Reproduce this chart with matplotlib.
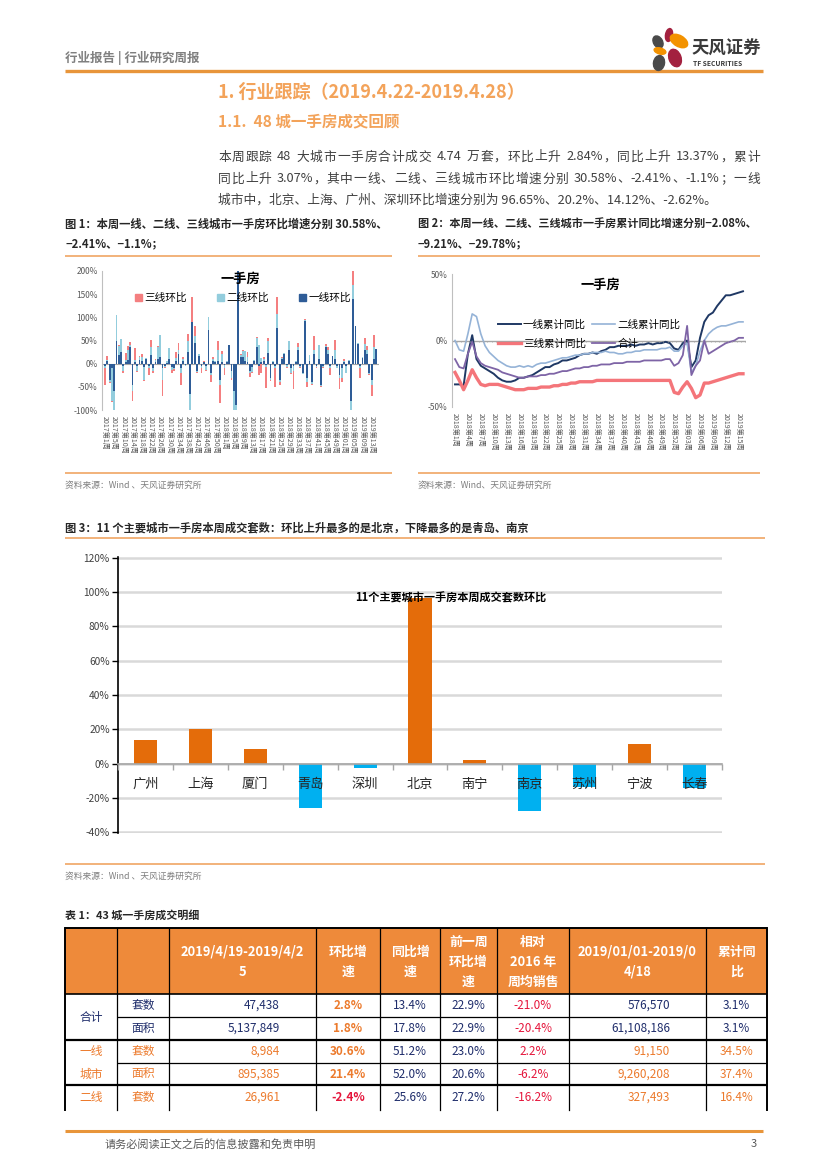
import re

import numpy as np
import matplotlib
matplotlib.use("Agg")
import matplotlib.pyplot as plt
from matplotlib.font_manager import FontProperties
from matplotlib.patches import Ellipse, Patch, Rectangle

plt.rcParams["font.family"] = ["Noto Sans CJK SC", "DejaVu Sans"]
plt.rcParams["axes.unicode_minus"] = False

W, H = 827, 1170

# 图1: 一线/二线/三线城市一手房环比 (周度, %)
c1_labels = [
    "2017第1周", "2017第5周", "2017第10周", "2017第14周", "2017第18周", "2017第22周",
    "2017第26周", "2017第30周", "2017第34周", "2017第38周", "2017第42周", "2017第46周",
    "2017第50周", "2018第1周", "2018第5周", "2018第9周", "2018第13周", "2018第17周",
    "2018第21周", "2018第25周", "2018第29周", "2018第33周", "2018第37周", "2018第41周",
    "2018第45周", "2018第49周", "2019第01周", "2019第05周", "2019第09周", "2019第13周",
]
c1_tier1 = [
    -5, 5, -35, -10, -60, 50, 18, 25, -5, 3,
    8, 35, -45, 3, -5, 8, 5, -8, 10, -5,
    18, -10, 3, 10, 15, -10, -5, 2, 10, -8,
    -10, 5, 20, -10, 5, -3, 25, -65, 90, 45,
    -15, 17, -5, 3, -5, 73, -20, 5, 3, 5,
    -35, 3, -3, 3, 40, -15, -60, -90, 230, 15,
    15, 5, 3, -15, -8, 5, 35, -5, 3, 5,
    -3, 22, -30, 3, -5, 78, -35, 10, 20, -3,
    30, -10, -5, 3, 30, -5, -20, 92, -30, 5,
    -40, 20, -5, 10, -45, -5, 35, 20, -5, 17,
    10, -5, -25, -10, 3, -5, 5, -80, 140, 82,
    42, -5, 12, 30, 20, -20, -35, 10, 32,
]
c1_tier2 = [
    -5, 3, -5, -70, -40, 55, 20, 28, -10, 5,
    22, 5, -15, 5, -10, 7, 10, -28, 2, -5,
    17, -5, 4, 25, 47, -25, -3, 3, 23, -5,
    -2, 8, 10, -10, 5, -2, 25, -35, 0, 15,
    -3, 3, -5, 1, -8, 27, -5, 5, 2, 25,
    -10, 17, -7, 3, 0, -15, -40, -10, 10, 3,
    12, 22, 12, -5, -10, 3, 20, 40, 10, 5,
    -5, 28, -5, 2, -5, 30, -5, 3, 2, -5,
    20, -10, -10, 2, 5, -3, -3, 2, -10, 13,
    -3, 10, -3, 30, -3, -3, 3, 10, -5, 0,
    20, -5, -5, -20, 2, -15, 3, -20, 30, 0,
    3, -5, 3, 12, 10, -3, -10, 25, 0,
]
c1_tier3 = [
    -35, 8, -2, -3, 0, 0, 2, 0, -5, 15,
    8, 6, -20, 25, -3, 2, 5, -2, 1, -15,
    15, -5, 2, 3, 0, -35, -2, 1, 0, -7,
    -3, 12, 15, -25, 5, 0, 15, 0, 53, 22,
    -2, 0, -10, 1, -2, 0, -15, 5, 0, 20,
    -40, 8, -15, 0, 0, -5, 0, 0, 0, 2,
    2, 0, 10, -8, -2, 0, 3, -20, -20, 5,
    -45, 5, -3, 0, -40, 35, -5, 2, 0, -2,
    0, -3, -40, 0, 10, -2, 0, 2, -10, 0,
    -2, 30, -2, 0, -2, -2, 5, 5, -15, 0,
    22, 0, -25, -10, 5, 0, 0, 0, 60, 0,
    0, -20, 0, 13, 8, -2, -25, 27, 0,
]

# 图2: 累计同比 (%)
c2_labels = [
    "2018第1周", "2018第4周", "2018第7周", "2018第10周", "2018第13周", "2018第16周",
    "2018第19周", "2018第22周", "2018第25周", "2018第28周", "2018第31周", "2018第34周",
    "2018第37周", "2018第40周", "2018第43周", "2018第46周", "2018第49周", "2018第52周",
    "2019第03周", "2019第06周", "2019第09周", "2019第12周", "2019第15周",
]
c2_tier1 = [
    -33, -33, -34, -10, 4, -14, -19, -21, -23, -25,
    -28, -30, -31, -31, -30, -28, -28, -27, -26, -24,
    -22, -20, -20, -18, -17, -15, -15, -14, -13, -11,
    -10, -10, -9, -10, -8, -7, -5, -5, -4, -4,
    -4, -3, -4, -3, -3, -2, -3, -2, -2, -1,
    -2, -6, -7, -2, 0, -20, -15, 2, 14, 19,
    21, 26, 30, 34, 34, 35, 36, 37,
]
c2_tier2 = [
    0, -7, -8, 5, 20, 18, 5, -4, -9, -12,
    -15, -17, -19, -20, -20, -19, -20, -19, -20, -18,
    -17, -17, -16, -15, -14, -13, -13, -12, -11, -11,
    -10, -10, -9, -9, -9, -8, -9, -9, -10, -10,
    -9, -9, -8, -8, -7, -7, -7, -7, -6, -6,
    -5, -8, -8, -4, -2, -24, -19, -8, 0, 5,
    8, 10, 11, 11, 12, 13, 14, 14,
]
c2_tier3 = [
    -24, -30, -37, -30, -22, -28, -33, -34, -33, -33,
    -33, -34, -35, -36, -37, -37, -37, -36, -36, -36,
    -35, -35, -35, -34, -34, -33, -33, -32, -32, -31,
    -31, -31, -31, -30, -30, -30, -30, -30, -30, -30,
    -30, -30, -30, -30, -30, -30, -30, -30, -30, -30,
    -30, -39, -40, -35, -31, -36, -43, -41, -32, -32,
    -31, -30, -29, -28, -27, -26, -25, -25,
]
c2_total = [
    -14, -20, -21, -10, -1, -12, -17, -19, -20, -21,
    -22, -24, -25, -26, -27, -28, -28, -27, -27, -27,
    -26, -26, -25, -25, -24, -23, -23, -22, -21, -21,
    -20, -20, -19, -19, -18, -18, -18, -17, -17, -17,
    -16, -16, -16, -16, -15, -15, -15, -15, -15, -14,
    -14, -19, -17, -11, 11, -26, -19, -15, 0, -10,
    -8, -6, -4, -2, -1, 0, 2, 2,
]

# 图3: 11个主要城市一手房本周成交套数环比 (%)
c3_cities = ["广州", "上海", "厦门", "青岛", "深圳", "北京", "南宁", "南京", "苏州", "宁波", "长春"]
c3_values = [14.1, 20.2, 8.7, -26.0, -2.6, 96.7, 2.1, -27.5, -13.6, 11.6, -14.0]

# 表1: 43城一手房成交明细
tab_header = [
    [], [], ["2019/4/19-2019/4/2", "5"], ["环比增", "速"], ["同比增", "速"],
    ["前一周", "环比增", "速"], ["相对", "2016 年", "周均销售"],
    ["2019/01/01-2019/0", "4/18"], ["累计同", "比"],
]
tab_item = ["套数", "面积", "套数", "面积", "套数"]
tab_week = ["47,438", "5,137,849", "8,984", "895,385", "26,961"]
tab_hb = ["2.8%", "1.8%", "30.6%", "21.4%", "-2.4%"]
tab_tb = ["13.4%", "17.8%", "51.2%", "52.0%", "25.6%"]
tab_prev = ["22.9%", "22.9%", "23.0%", "20.6%", "27.2%"]
tab_vs2016 = ["-21.0%", "-20.4%", "2.2%", "-6.2%", "-16.2%"]
tab_ytd = ["576,570", "61,108,186", "91,150", "9,260,208", "327,493"]
tab_ytd_yoy = ["3.1%", "3.1%", "34.5%", "37.4%", "16.4%"]

ORANGE_LINE = "#E8953A"
TITLE_LINE = "#F2B27A"
HEAD_ORANGE = "#F3A35A"
NAVY = "#1F2D6B"
ORANGE_TXT = "#EC7A2C"
RED_TXT = "#E5163C"


def box(x0, y0, x1, y1):
    return [x0 / W, 1 - y1 / H, (x1 - x0) / W, (y1 - y0) / H]


fig = plt.figure(figsize=(W / 100, H / 100), dpi=100)
fig.patch.set_facecolor("white")

pg = fig.add_axes([0, 0, 1, 1], zorder=0)
pg.set_xlim(0, W)
pg.set_ylim(H, 0)
pg.axis("off")


def ptext(x, y, s, size, color="#404040", weight="normal", ha="left", va="center", **kw):
    pg.text(x, y, s, fontsize=size, color=color, fontweight=weight, ha=ha, va=va, **kw)


def hline(x0, x1, y, color, lw):
    pg.plot([x0, x1], [y, y], color=color, lw=lw, solid_capstyle="butt")


def justified(x0, x1, y, s, size, color):
    # CJK chars and ASCII runs are tokens; the slack is shared between tokens
    renderer = fig.canvas.get_renderer()
    prop = FontProperties(family=["Noto Sans CJK SC", "DejaVu Sans"], size=size)
    tokens = re.findall(r"[A-Za-z0-9.%\-]+| |.", s)
    widths = []
    for tk in tokens:
        if tk == " ":
            w, _, _ = renderer.get_text_width_height_descent("a", prop, ismath=False)
            widths.append(w * 0.5)
        else:
            w, _, _ = renderer.get_text_width_height_descent(tk, prop, ismath=False)
            widths.append(w)
    widths = np.array(widths)
    gap = (x1 - x0 - widths.sum()) / max(len(tokens) - 1, 1)
    xpos = x0 + np.concatenate([[0], np.cumsum(widths[:-1] + gap)])
    for tk, xx in zip(tokens, xpos):
        if tk != " ":
            ptext(xx, y, tk, size, color=color)


# ---- 页眉
ptext(65, 58, "行业报告 | 行业研究周报", 9, color="#7F7F7F", weight="bold")
hline(65, 763, 71, ORANGE_LINE, 2.4)

logo = fig.add_axes(box(645, 24, 690, 74), zorder=2)
logo.set_xlim(645, 690)
logo.set_ylim(74, 24)
logo.axis("off")
for (cx, cy, w, h, ang, col) in [
    (669, 35, 7, 13, 10, "#A3213F"),
    (679, 41, 19, 11, 30, "#F39200"),
    (658, 42, 9, 13, -30, "#4A4A4A"),
    (660, 51, 12, 6, 15, "#F39200"),
    (675, 58, 12, 18, -20, "#A3213F"),
    (659, 63, 11, 15, 10, "#4A4A4A"),
]:
    logo.add_patch(Ellipse((cx, cy), w, h, angle=ang, color=col))
ptext(691, 49, "天风证券", 12.5, color="#3A3A3A", weight="bold")
ptext(693, 64, "TF SECURITIES", 4.8, color="#3A3A3A", weight="bold")

# ---- 标题和正文
ptext(218, 92, "1. 行业跟踪（2019.4.22-2019.4.28）", 13, color=HEAD_ORANGE, weight="bold")
ptext(218, 122, "1.1.  48 城一手房成交回顾", 11.2, color=HEAD_ORANGE, weight="bold")
para = [
    "本周跟踪 48 大城市一手房合计成交 4.74 万套，环比上升 2.84%，同比上升 13.37%，累计",
    "同比上升 3.07%，其中一线、二线、三线城市环比增速分别 30.58%、-2.41%、-1.1%；一线",
    "城市中，北京、上海、广州、深圳环比增速分别为 96.65%、20.2%、14.12%、-2.62%。",
]
justified(218, 760, 157, para[0], 9.2, "#404040")
justified(218, 760, 179, para[1], 9.2, "#404040")
ptext(218, 200, para[2], 9.2, color="#404040")

# ---- 图1 / 图2 标题
ptext(65, 224, "图 1：本周一线、二线、三线城市一手房环比增速分别 30.58%、", 8.1, color="#262626", weight="bold")
ptext(65, 244, "−2.41%、−1.1%；", 8.1, color="#262626", weight="bold")
ptext(418, 224, "图 2：本周一线、二线、三线城市一手房累计同比增速分别−2.08%、", 8.0, color="#262626", weight="bold")
ptext(418, 244, "−9.21%、−29.78%；", 8.0, color="#262626", weight="bold")
hline(65, 392, 256, TITLE_LINE, 1.4)
hline(418, 760, 256, TITLE_LINE, 1.4)
hline(65, 392, 473, TITLE_LINE, 1.4)
hline(418, 760, 473, TITLE_LINE, 1.4)
ptext(65, 485, "资料来源：Wind 、天风证券研究所", 6.3, color="#7F7F7F")
ptext(418, 485, "资料来源：Wind、天风证券研究所", 6.3, color="#7F7F7F")

# ---- 图1: 堆积柱状
ax1 = fig.add_axes(box(102, 271, 379, 410), zorder=2)
ax1.patch.set_alpha(0)
n1 = len(c1_tier1)
x1 = np.arange(n1)
pos = np.zeros(n1)
neg = np.zeros(n1)
handles1 = {}
for vals, name, col in [
    (c1_tier1, "一线环比", "#2E5C97"),
    (c1_tier2, "二线环比", "#93CDDD"),
    (c1_tier3, "三线环比", "#F47F80"),
]:
    v = np.array(vals, dtype=float)
    base = np.where(v >= 0, pos, neg)
    ax1.bar(x1, v, bottom=base, width=0.8, color=col, linewidth=0)
    pos += np.clip(v, 0, None)
    neg += np.clip(v, None, 0)
    handles1[name] = Patch(color=col)
ax1.axhline(0, color="#A6A6A6", lw=0.8, zorder=0.5)
ax1.set_xlim(-1.3, n1 + 0.2)
ax1.set_ylim(-100, 200)
ax1.set_yticks(np.arange(-100, 201, 50))
ax1.set_yticklabels([f"{t}%" for t in range(-100, 201, 50)])
ax1.set_xticks(x1[::4])
ax1.set_xticklabels(c1_labels, rotation=-90, fontsize=5.1, color="#595959")
ax1.tick_params(axis="x", length=0, pad=4)
ax1.tick_params(axis="y", length=0, labelsize=6, colors="#595959", pad=3)
for s in ["top", "right", "bottom"]:
    ax1.spines[s].set_visible(False)
ax1.spines["left"].set_color("#BFBFBF")
ax1.text(0.5, 0.942, "一手房", transform=ax1.transAxes, ha="center", va="center",
         fontsize=9.5, fontweight="bold", color="#000000")
order1 = ["三线环比", "二线环比", "一线环比"]
ax1.legend([handles1[k] for k in order1], order1, loc="center", bbox_to_anchor=(0.51, 0.806),
           ncol=3, frameon=False, fontsize=7.7, handlelength=0.6, handleheight=0.6,
           handletextpad=0.3, columnspacing=2.8, borderpad=0)

# ---- 图2: 折线
ax2 = fig.add_axes(box(452, 274, 746, 407), zorder=2)
ax2.patch.set_alpha(0)
n2 = len(c2_tier1)
x2 = np.arange(n2)
l1, = ax2.plot(x2, c2_tier1, color="#1F3864", lw=1.4)
l2, = ax2.plot(x2, c2_tier2, color="#95B3D7", lw=1.2)
l3, = ax2.plot(x2, c2_tier3, color="#F4757A", lw=2.4)
l4, = ax2.plot(x2, c2_total, color="#7E64A6", lw=1.3)
ax2.axhline(0, color="#A6A6A6", lw=1.0, zorder=0.5)
ax2.vlines(x2 + 0.5, -1.5, 0, color="#A6A6A6", lw=0.6)
ax2.set_xlim(-0.7, n2 - 0.3)
ax2.set_ylim(-50, 50)
ax2.set_yticks([-50, 0, 50])
ax2.set_yticklabels(["-50%", "0%", "50%"])
ax2.set_xticks(x2[::3])
ax2.set_xticklabels(c2_labels, rotation=-90, fontsize=5.1, color="#595959")
ax2.tick_params(axis="x", length=0, pad=4)
ax2.tick_params(axis="y", length=0, labelsize=6, colors="#595959", pad=3)
for s in ["top", "right", "bottom"]:
    ax2.spines[s].set_visible(False)
ax2.spines["left"].set_color("#BFBFBF")
ax2.text(0.503, 0.917, "一手房", transform=ax2.transAxes, ha="center", va="center",
         fontsize=9.5, fontweight="bold", color="#000000")
ax2.legend([l1, l3, l2, l4], ["一线累计同比", "三线累计同比", "二线累计同比", "合计"],
           loc="center", bbox_to_anchor=(0.466, 0.548), ncol=2, frameon=False,
           fontsize=7.6, handlelength=2.2, handletextpad=0.2, columnspacing=0.6,
           labelspacing=0.9, borderpad=0)

# ---- 图3
ptext(65, 528, "图 3：11 个主要城市一手房本周成交套数：环比上升最多的是北京，下降最多的是青岛、南京",
      8.1, color="#262626", weight="bold")
hline(65, 765, 538, TITLE_LINE, 1.4)
hline(65, 765, 864, TITLE_LINE, 1.4)
ptext(65, 876, "资料来源：Wind 、天风证券研究所", 6.3, color="#7F7F7F")

ax3 = fig.add_axes(box(118, 557, 722, 833), zorder=2)
ax3.patch.set_alpha(0)
x3 = np.arange(len(c3_cities))
v3 = np.array(c3_values)
ax3.bar(x3, v3, width=0.42, color=np.where(v3 >= 0, "#E46C0A", "#00B0F0"), zorder=2)
ax3.set_axisbelow(True)
ax3.set_xlim(-0.5, len(c3_cities) - 0.5)
ax3.set_ylim(-40.3, 120.3)
ax3.set_yticks(np.arange(-40, 121, 20))
ax3.set_yticklabels([f"{t}%" for t in range(-40, 121, 20)])
ax3.yaxis.grid(True, color="#D9D9D9", lw=1.8)
ax3.tick_params(axis="y", length=4, width=1, color="#000000", labelsize=7.3, labelcolor="#404040", pad=2)
ax3.spines["left"].set_color("#000000")
ax3.spines["left"].set_linewidth(1.2)
ax3.spines["top"].set_visible(False)
ax3.spines["right"].set_visible(False)
ax3.spines["bottom"].set_position(("data", 0))
ax3.spines["bottom"].set_color("#A6A6A6")
ax3.spines["bottom"].set_linewidth(1.2)
ax3.set_xticks(x3)
ax3.set_xticklabels(c3_cities, fontsize=9.5, color="#262626")
ax3.set_xticks(np.arange(len(c3_cities) + 1) - 0.5, minor=True)
ax3.tick_params(axis="x", which="major", length=0, pad=10)
ax3.tick_params(axis="x", which="minor", length=4, color="#A6A6A6", width=1)
ax3.xaxis.set_zorder(5)
ax3.text(0.551, 0.851, "11个主要城市一手房本周成交套数环比", transform=ax3.transAxes,
         ha="center", va="center", fontsize=8, fontweight="bold", color="#000000", zorder=6)

# ---- 表1
ptext(65, 915, "表 1：43 城一手房成交明细", 7.9, color="#262626", weight="bold")
col_x = [65, 117, 169, 316, 380, 440, 497, 569, 706, 767]
row_y = [928, 994, 1017, 1040, 1063, 1085, 1110]
pg.add_patch(Rectangle((col_x[0], row_y[0]), col_x[-1] - col_x[0], row_y[1] - row_y[0],
                       facecolor="#EE8A3A", edgecolor="none"))
for c, lines in enumerate(tab_header):
    cx = (col_x[c] + col_x[c + 1]) / 2
    ys = [952, 972] if len(lines) == 2 else [942, 962, 982]
    for yy, t in zip(ys, lines):
        ptext(cx, yy, t, 9.3, color="#FFFFFF", weight="bold", ha="center")

columns = [tab_week, tab_hb, tab_tb, tab_prev, tab_vs2016, tab_ytd, tab_ytd_yoy]
for r in range(len(tab_item)):
    yc = (row_y[r + 1] + row_y[r + 2]) / 2
    is_total = r < 2
    base_col = NAVY if is_total else ORANGE_TXT
    ptext((col_x[1] + col_x[2]) / 2, yc, tab_item[r], 8.5, color=base_col, ha="center")
    colors = [base_col, ORANGE_TXT if tab_hb[r][0] != "-" else RED_TXT, NAVY, NAVY, RED_TXT,
              base_col, base_col]
    weights = ["normal", "bold", "normal", "normal", "normal", "normal", "normal"]
    for k, col in enumerate(columns):
        c = k + 2
        if k in (0, 5):
            ptext(col_x[c + 1] - 36, yc, col[r], 8.5, color=colors[k], weight=weights[k], ha="right")
        else:
            ptext((col_x[c] + col_x[c + 1]) / 2, yc, col[r], 8.5, color=colors[k],
                  weight=weights[k], ha="center")
gx = (col_x[0] + col_x[1]) / 2
ptext(gx, row_y[2], "合计", 8.5, color=NAVY, ha="center")
ptext(gx, (row_y[3] + row_y[4]) / 2, "一线", 8.5, color=ORANGE_TXT, ha="center")
ptext(gx, (row_y[4] + row_y[5]) / 2, "城市", 8.5, color=ORANGE_TXT, ha="center")
ptext(gx, (row_y[5] + row_y[6]) / 2, "二线", 8.5, color=ORANGE_TXT, ha="center")

hline(col_x[0], col_x[-1], row_y[0], "#000000", 1.4)
hline(col_x[0], col_x[-1], row_y[1], "#000000", 1.2)
hline(col_x[1], col_x[-1], row_y[2], "#000000", 0.9)
hline(col_x[0], col_x[-1], row_y[3], "#000000", 1.6)
hline(col_x[1], col_x[-1], row_y[4], "#000000", 0.9)
hline(col_x[0], col_x[-1], row_y[5], "#000000", 1.6)
for k, xx in enumerate(col_x):
    lw = 1.4 if k in (0, len(col_x) - 1) else 0.9
    pg.plot([xx, xx], [row_y[0], row_y[-1]], color="#000000", lw=lw)

# ---- 页脚
hline(65, 763, 1131, ORANGE_LINE, 2.2)
ptext(105, 1144, "请务必阅读正文之后的信息披露和免责申明", 8, color="#595959")
ptext(757, 1144, "3", 8, color="#595959", ha="right")

fig.savefig("out.png", dpi=100)
